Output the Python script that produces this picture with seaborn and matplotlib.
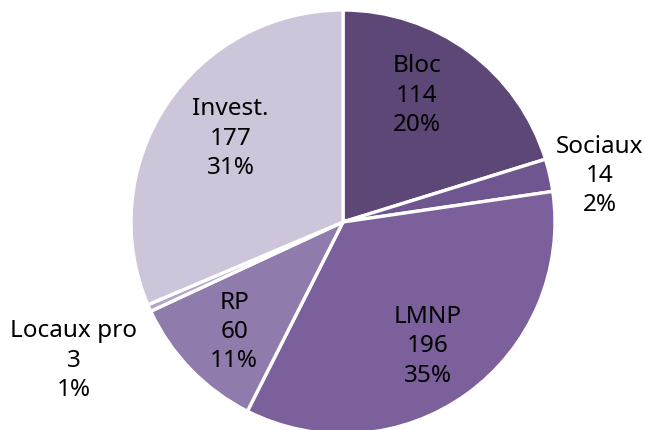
import numpy as np
import seaborn as sns
import matplotlib.pyplot as plt

# ---- data ----
categories = ["Bloc", "Sociaux", "LMNP", "RP", "Locaux pro", "Invest."]
values = [114, 14, 196, 60, 3, 177]
colors = ["#5d4777", "#6f5690", "#7c609c", "#907cac", "#b6a7c8", "#cdc5d9"]
# label placement: distance from centre (fraction of radius) and angle nudge (deg)
label_dist = [0.69, 1.23, 0.71, 0.73, 1.43, 0.66]
label_nudge = [6.0, -2.6, -1.3, 1.3, 3.3, -3.0]

sns.set_theme(style="white")
plt.rcParams["font.family"] = ["Noto Sans", "DejaVu Sans"]

W, H = 645, 430
fig = plt.figure(figsize=(W / 100, H / 100), dpi=100)
cx, cy, r = 343, 222, 212
ax = fig.add_axes([(cx - r) / W, (H - cy - r) / H, 2 * r / W, 2 * r / H])

wedges, _ = ax.pie(
    values, colors=colors, startangle=90, counterclock=False, radius=1,
    wedgeprops=dict(edgecolor="white", linewidth=2.4),
)
ax.set_xlim(-1, 1)
ax.set_ylim(-1, 1)
ax.set_aspect("equal")
ax.axis("off")

total = sum(values)
for w, name, v, d, nd in zip(wedges, categories, values, label_dist, label_nudge):
    ang = np.deg2rad((w.theta1 + w.theta2) / 2 + nd)
    pct = int(round(100 * v / total))
    ax.text(d * np.cos(ang), d * np.sin(ang), f"{name}\n{v}\n{pct}%",
            ha="center", va="center", fontsize=17.5, linespacing=1.3,
            color="black", clip_on=False)

fig.savefig("out.png", dpi=100)
